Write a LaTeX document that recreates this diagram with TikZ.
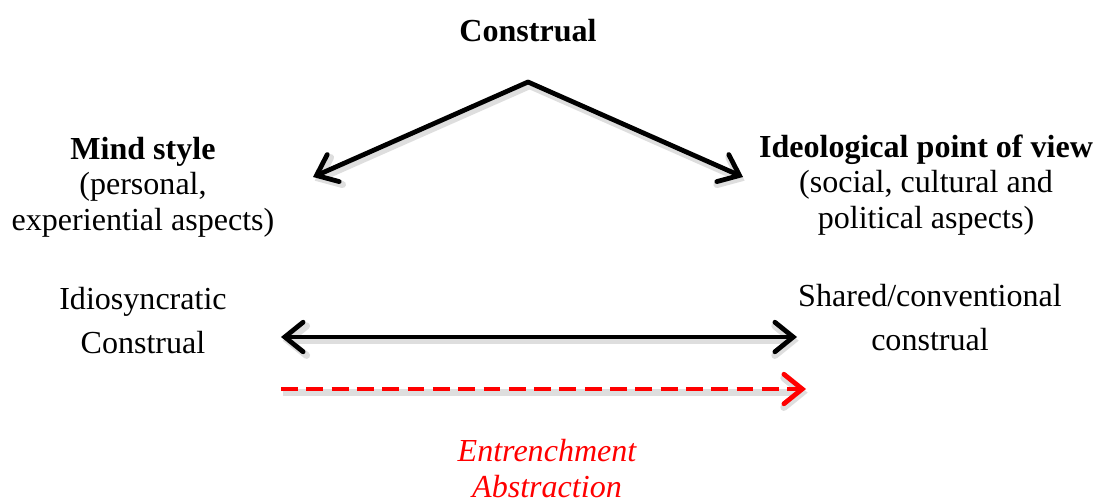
\documentclass[tikz,border=0pt]{standalone}
\usepackage{fontspec}
\setmainfont{Liberation Serif}
\usetikzlibrary{arrows.meta}
\begin{document}
\begin{tikzpicture}[x=0.025cm,y=-0.025cm,font=\fontsize{22.8}{25}\selectfont,
	txt/.style={align=center,anchor=base,inner sep=0pt},
	shade/.style={preaction={draw=black!13,line width=5pt,transform canvas={shift={(1.2pt,-2.6pt)}}}},
	barb/.style={line width=3.4pt,line cap=round,shade,
		{Straight Barb[length=13pt,width=21pt,line cap=round]}-{Straight Barb[length=13pt,width=21pt,line cap=round]}},
	tobarb/.style={line width=3.4pt,line cap=round,shade,
		-{Straight Barb[length=13pt,width=21pt,line cap=round]}}]
	\useasboundingbox (0,0) rectangle (1095,499);
	% labels (anchored at the baseline of the last line)
	\node[txt] (constr) at (528,42) {\textbf{Construal}};
	\node[txt] (mind) at (143,230) {\textbf{Mind style}\\(personal,\\experiential aspects)};
	\node[txt] (ideo) at (926,228) {\textbf{Ideological point of view}\\(social, cultural and\\political aspects)};
	\node[txt,font=\fontsize{22.8}{31}\selectfont] (idio) at (143,353) {Idiosyncratic\\Construal};
	\node[txt,font=\fontsize{22.8}{31}\selectfont] (shared) at (930,350) {Shared/conventional\\construal};
	\node[txt,text=red,font=\fontsize{22.8}{25}\selectfont\itshape] (entr) at (547,497) {Entrenchment\\Abstraction};
	% arrows
	\coordinate (apex) at (528,82);
	\coordinate (ml) at (313,177);
	\coordinate (mr) at (743,177);
	\coordinate (il) at (281,337);
	\coordinate (ir) at (797,337);
	\coordinate (el) at (281,389);
	\coordinate (er) at (806,389);
	\draw[tobarb] (apex)--(ml);
	\draw[tobarb] (apex)--(mr);
	\draw[barb] (il)--(ir);
	\draw[tobarb,red,line width=3.4pt,line cap=butt,dash pattern=on 12pt off 6pt] (el)--(er);
\end{tikzpicture}
\end{document}
